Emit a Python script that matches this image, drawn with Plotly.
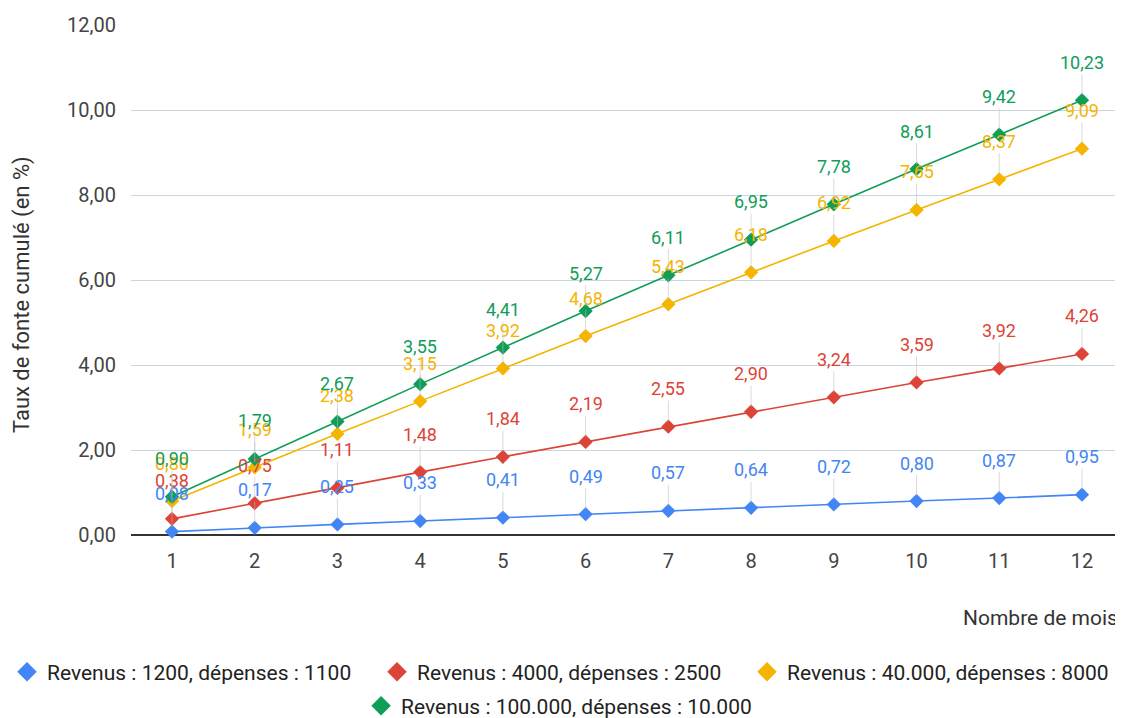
import plotly.graph_objects as go

months = list(range(1, 13))
series_names = [
    "Revenus : 1200, dépenses : 1100",
    "Revenus : 4000, dépenses : 2500",
    "Revenus : 40.000, dépenses : 8000",
    "Revenus : 100.000, dépenses : 10.000",
]
blue_vals = [0.08, 0.17, 0.25, 0.33, 0.41, 0.49, 0.57, 0.64, 0.72, 0.80, 0.87, 0.95]
red_vals = [0.38, 0.75, 1.11, 1.48, 1.84, 2.19, 2.55, 2.90, 3.24, 3.59, 3.92, 4.26]
yellow_vals = [0.80, 1.59, 2.38, 3.15, 3.92, 4.68, 5.43, 6.18, 6.92, 7.65, 8.37, 9.09]
green_vals = [0.90, 1.79, 2.67, 3.55, 4.41, 5.27, 6.11, 6.95, 7.78, 8.61, 9.42, 10.23]
y_ticks = [0, 2, 4, 6, 8, 10, 12]
x_title = "Nombre de mois"
y_title = "Taux de fonte cumulé (en %)"

colors = ["#4285F4", "#DB4437", "#F4B400", "#0F9D58"]
all_vals = [blue_vals, red_vals, yellow_vals, green_vals]
legends = ["legend", "legend", "legend", "legend2"]

FONT = "Roboto, Arial, sans-serif"

fig = go.Figure()
for name, vals, col in zip(series_names, all_vals, colors):
    fig.add_trace(go.Scatter(
        x=months, y=vals, name=name, mode="lines+markers",
        line=dict(color=col, width=1.6),
        marker=dict(symbol="diamond", size=11, color=col),
        showlegend=False, cliponaxis=False,
    ))
# legend-only entries (diamond symbol only, as in the reference)
for name, col, lg in zip(series_names, colors, legends):
    fig.add_trace(go.Scatter(
        x=[None], y=[None], name=name, mode="markers",
        marker=dict(symbol="diamond", size=15, color=col),
        legend=lg, showlegend=True,
    ))

annotations = []
for vals, col in zip(all_vals, colors):
    for m, v in zip(months, vals):
        annotations.append(dict(
            x=m, y=v, xref="x", yref="y",
            text=f"{v:.2f}".replace(".", ","),
            showarrow=True, arrowhead=0, arrowwidth=1, arrowcolor="rgba(190,190,190,0.55)",
            ax=0, ay=-38, standoff=5,
            font=dict(family=FONT, size=18, color=col),
        ))

annotations.append(dict(
    x=0.997, y=-0.1627, xref="paper", yref="paper", xanchor="right", yanchor="middle",
    text=x_title, showarrow=False,
    font=dict(family=FONT, size=21, color="#333333"),
))
annotations.append(dict(
    x=-0.1099, y=0.4725, xref="paper", yref="paper", xanchor="center", yanchor="middle",
    text=y_title, showarrow=False, textangle=-90,
    font=dict(family=FONT, size=22, color="#333333"),
))

fig.update_layout(
    width=1115, height=710,
    margin=dict(l=123, r=0, t=17, b=183, autoexpand=False),
    paper_bgcolor="white", plot_bgcolor="white",
    font=dict(family=FONT, size=19, color="#444444"),
    showlegend=True,
    legend=dict(orientation="h", x=-0.125, xanchor="left", y=-0.2686, yanchor="middle",
                font=dict(family=FONT, size=21, color="#222222"), itemsizing="trace",
                entrywidth=325, entrywidthmode="pixels", traceorder="normal",
                bgcolor="rgba(0,0,0,0)"),
    legend2=dict(orientation="h", x=0.2319, xanchor="left", y=-0.3353, yanchor="middle",
                 font=dict(family=FONT, size=21, color="#222222"), itemsizing="trace",
                 bgcolor="rgba(0,0,0,0)"),
    annotations=annotations,
    xaxis=dict(
        tickmode="array", tickvals=months, ticktext=[str(m) for m in months],
        range=[0.5044, 12.496], showgrid=False, zeroline=False, showline=False,
        ticks="", ticklabelstandoff=12,
        tickfont=dict(family=FONT, size=20, color="#444444"),
    ),
    yaxis=dict(
        range=[0, 12], tickvals=y_ticks, ticktext=[f"{t:.2f}".replace(".", ",") for t in y_ticks],
        showgrid=True, gridcolor="#c9d5e0", gridwidth=1,
        zeroline=True, zerolinecolor="#333333", zerolinewidth=1.5,
        showline=False, ticks="", ticklabelstandoff=14,
        tickfont=dict(family=FONT, size=20, color="#444444"),
    ),
)

fig.write_html("out.html")
